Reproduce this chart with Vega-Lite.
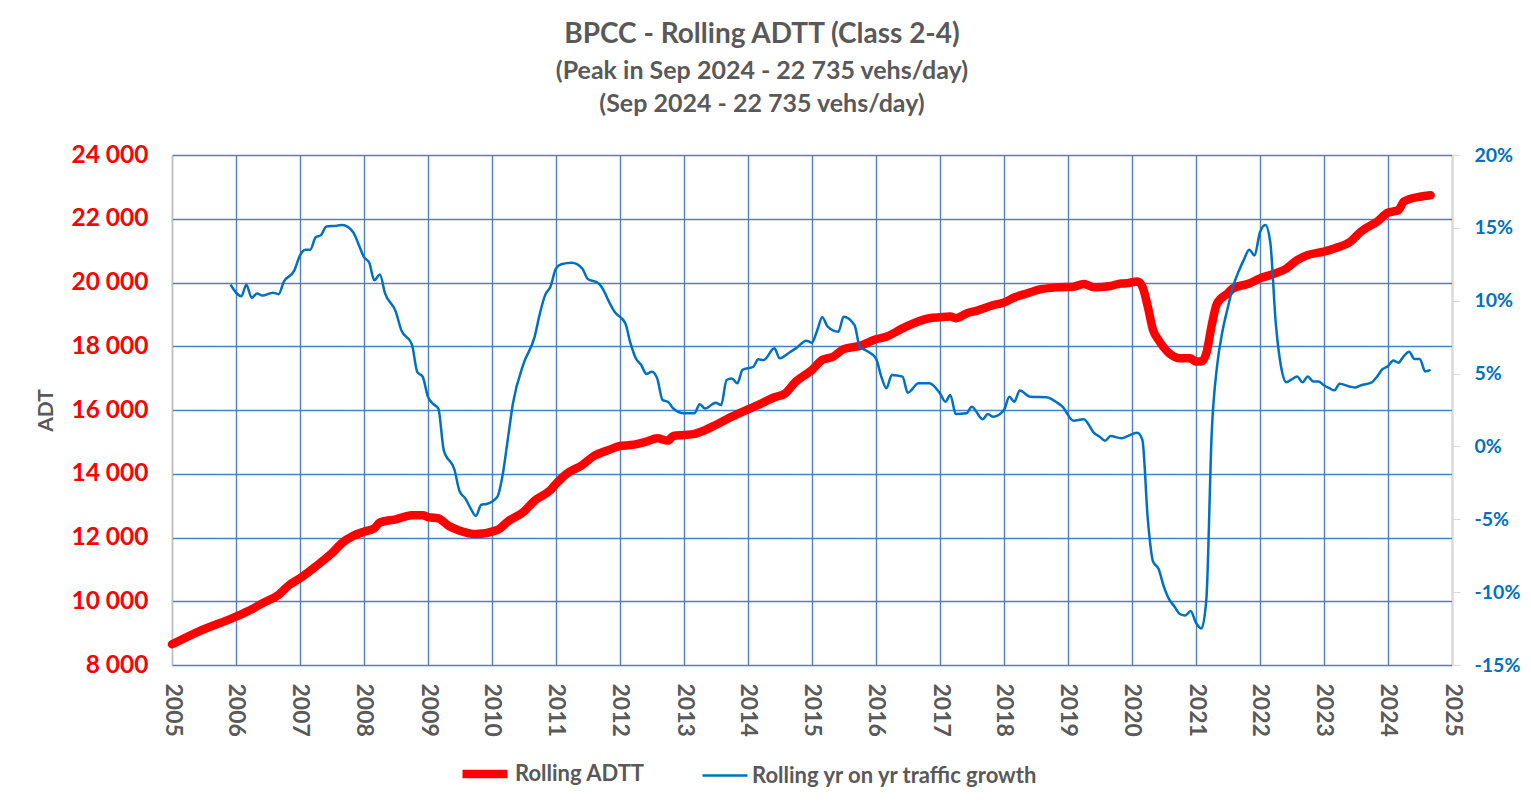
{
"$schema":"https://vega.github.io/schema/vega-lite/v6.json",
"width":1280,"height":510,
"autosize":{"type":"none"},
"padding":{"left":172,"top":155,"right":79,"bottom":143},
"background":"white",
"config":{"font":"Lato","view":{"stroke":null}},
"title":{"text":"BPCC - Rolling ADTT (Class 2-4)","subtitle":["(Peak in Sep 2024 - 22 735 vehs/day)","(Sep 2024 - 22 735 vehs/day)"],"anchor":"middle","dx":-50,"offset":25,"fontSize":28,"fontWeight":"bold","color":"#595959","subtitleFontSize":25,"subtitleFontWeight":"bold","subtitleColor":"#595959","subtitleLineHeight":33,"subtitlePadding":10},
"datasets":{
"adtt":[
{"date":"2005-01-01","series":"Rolling ADTT","value":8650},
{"date":"2005-06-01","series":"Rolling ADTT","value":9050},
{"date":"2006-01-01","series":"Rolling ADTT","value":9520},
{"date":"2006-04-01","series":"Rolling ADTT","value":9750},
{"date":"2006-06-01","series":"Rolling ADTT","value":9940},
{"date":"2006-09-01","series":"Rolling ADTT","value":10200},
{"date":"2006-11-01","series":"Rolling ADTT","value":10510},
{"date":"2007-01-01","series":"Rolling ADTT","value":10720},
{"date":"2007-04-01","series":"Rolling ADTT","value":11090},
{"date":"2007-07-01","series":"Rolling ADTT","value":11500},
{"date":"2007-09-01","series":"Rolling ADTT","value":11840},
{"date":"2007-11-01","series":"Rolling ADTT","value":12050},
{"date":"2008-01-01","series":"Rolling ADTT","value":12180},
{"date":"2008-03-01","series":"Rolling ADTT","value":12290},
{"date":"2008-04-01","series":"Rolling ADTT","value":12470},
{"date":"2008-07-01","series":"Rolling ADTT","value":12570},
{"date":"2008-10-01","series":"Rolling ADTT","value":12700},
{"date":"2008-12-01","series":"Rolling ADTT","value":12700},
{"date":"2009-01-01","series":"Rolling ADTT","value":12640},
{"date":"2009-03-01","series":"Rolling ADTT","value":12600},
{"date":"2009-05-01","series":"Rolling ADTT","value":12360},
{"date":"2009-07-01","series":"Rolling ADTT","value":12215},
{"date":"2009-10-01","series":"Rolling ADTT","value":12110},
{"date":"2010-02-01","series":"Rolling ADTT","value":12235},
{"date":"2010-04-01","series":"Rolling ADTT","value":12500},
{"date":"2010-07-01","series":"Rolling ADTT","value":12810},
{"date":"2010-09-01","series":"Rolling ADTT","value":13155},
{"date":"2010-12-01","series":"Rolling ADTT","value":13490},
{"date":"2011-01-01","series":"Rolling ADTT","value":13680},
{"date":"2011-03-01","series":"Rolling ADTT","value":13990},
{"date":"2011-06-01","series":"Rolling ADTT","value":14275},
{"date":"2011-08-01","series":"Rolling ADTT","value":14540},
{"date":"2011-11-01","series":"Rolling ADTT","value":14750},
{"date":"2012-01-01","series":"Rolling ADTT","value":14870},
{"date":"2012-03-01","series":"Rolling ADTT","value":14900},
{"date":"2012-06-01","series":"Rolling ADTT","value":15010},
{"date":"2012-08-01","series":"Rolling ADTT","value":15110},
{"date":"2012-10-01","series":"Rolling ADTT","value":15040},
{"date":"2012-11-01","series":"Rolling ADTT","value":15185},
{"date":"2013-01-01","series":"Rolling ADTT","value":15215},
{"date":"2013-03-01","series":"Rolling ADTT","value":15250},
{"date":"2013-05-01","series":"Rolling ADTT","value":15370},
{"date":"2013-07-01","series":"Rolling ADTT","value":15530},
{"date":"2013-10-01","series":"Rolling ADTT","value":15790},
{"date":"2014-01-01","series":"Rolling ADTT","value":16020},
{"date":"2014-03-01","series":"Rolling ADTT","value":16160},
{"date":"2014-06-01","series":"Rolling ADTT","value":16400},
{"date":"2014-08-01","series":"Rolling ADTT","value":16520},
{"date":"2014-10-01","series":"Rolling ADTT","value":16890},
{"date":"2015-01-01","series":"Rolling ADTT","value":17255},
{"date":"2015-03-01","series":"Rolling ADTT","value":17570},
{"date":"2015-05-01","series":"Rolling ADTT","value":17670},
{"date":"2015-07-01","series":"Rolling ADTT","value":17910},
{"date":"2015-10-01","series":"Rolling ADTT","value":18010},
{"date":"2016-01-01","series":"Rolling ADTT","value":18220},
{"date":"2016-03-01","series":"Rolling ADTT","value":18300},
{"date":"2016-06-01","series":"Rolling ADTT","value":18560},
{"date":"2016-07-01","series":"Rolling ADTT","value":18640},
{"date":"2016-11-01","series":"Rolling ADTT","value":18880},
{"date":"2017-01-01","series":"Rolling ADTT","value":18910},
{"date":"2017-03-01","series":"Rolling ADTT","value":18930},
{"date":"2017-04-01","series":"Rolling ADTT","value":18880},
{"date":"2017-06-01","series":"Rolling ADTT","value":19030},
{"date":"2017-08-01","series":"Rolling ADTT","value":19120},
{"date":"2017-11-01","series":"Rolling ADTT","value":19290},
{"date":"2018-01-01","series":"Rolling ADTT","value":19370},
{"date":"2018-03-01","series":"Rolling ADTT","value":19530},
{"date":"2018-05-01","series":"Rolling ADTT","value":19640},
{"date":"2018-08-01","series":"Rolling ADTT","value":19790},
{"date":"2018-11-01","series":"Rolling ADTT","value":19850},
{"date":"2019-02-01","series":"Rolling ADTT","value":19870},
{"date":"2019-04-01","series":"Rolling ADTT","value":19950},
{"date":"2019-06-01","series":"Rolling ADTT","value":19850},
{"date":"2019-09-01","series":"Rolling ADTT","value":19890},
{"date":"2019-11-01","series":"Rolling ADTT","value":19970},
{"date":"2019-12-01","series":"Rolling ADTT","value":19975},
{"date":"2020-02-01","series":"Rolling ADTT","value":20030},
{"date":"2020-03-01","series":"Rolling ADTT","value":19870},
{"date":"2020-04-01","series":"Rolling ADTT","value":19240},
{"date":"2020-05-01","series":"Rolling ADTT","value":18510},
{"date":"2020-06-01","series":"Rolling ADTT","value":18200},
{"date":"2020-08-01","series":"Rolling ADTT","value":17780},
{"date":"2020-10-01","series":"Rolling ADTT","value":17620},
{"date":"2020-12-01","series":"Rolling ADTT","value":17620},
{"date":"2021-01-01","series":"Rolling ADTT","value":17520},
{"date":"2021-02-01","series":"Rolling ADTT","value":17520},
{"date":"2021-03-01","series":"Rolling ADTT","value":17780},
{"date":"2021-04-01","series":"Rolling ADTT","value":18670},
{"date":"2021-05-01","series":"Rolling ADTT","value":19340},
{"date":"2021-07-01","series":"Rolling ADTT","value":19660},
{"date":"2021-08-01","series":"Rolling ADTT","value":19820},
{"date":"2021-11-01","series":"Rolling ADTT","value":19970},
{"date":"2022-01-01","series":"Rolling ADTT","value":20130},
{"date":"2022-03-01","series":"Rolling ADTT","value":20235},
{"date":"2022-06-01","series":"Rolling ADTT","value":20440},
{"date":"2022-08-01","series":"Rolling ADTT","value":20700},
{"date":"2022-10-01","series":"Rolling ADTT","value":20860},
{"date":"2023-01-01","series":"Rolling ADTT","value":20970},
{"date":"2023-03-01","series":"Rolling ADTT","value":21070},
{"date":"2023-06-01","series":"Rolling ADTT","value":21280},
{"date":"2023-08-01","series":"Rolling ADTT","value":21600},
{"date":"2023-11-01","series":"Rolling ADTT","value":21910},
{"date":"2024-01-01","series":"Rolling ADTT","value":22190},
{"date":"2024-03-01","series":"Rolling ADTT","value":22270},
{"date":"2024-04-01","series":"Rolling ADTT","value":22540},
{"date":"2024-05-01","series":"Rolling ADTT","value":22610},
{"date":"2024-07-01","series":"Rolling ADTT","value":22690},
{"date":"2024-09-01","series":"Rolling ADTT","value":22735}
],
"growth":[
{"date":"2005-12-01","series":"Rolling yr on yr traffic growth","value":11.1},
{"date":"2006-02-01","series":"Rolling yr on yr traffic growth","value":10.3},
{"date":"2006-03-01","series":"Rolling yr on yr traffic growth","value":11.1},
{"date":"2006-04-01","series":"Rolling yr on yr traffic growth","value":10.2},
{"date":"2006-05-01","series":"Rolling yr on yr traffic growth","value":10.5},
{"date":"2006-06-01","series":"Rolling yr on yr traffic growth","value":10.35},
{"date":"2006-08-01","series":"Rolling yr on yr traffic growth","value":10.55},
{"date":"2006-09-01","series":"Rolling yr on yr traffic growth","value":10.45},
{"date":"2006-10-01","series":"Rolling yr on yr traffic growth","value":11.3},
{"date":"2006-12-01","series":"Rolling yr on yr traffic growth","value":12.1},
{"date":"2007-01-01","series":"Rolling yr on yr traffic growth","value":13.1},
{"date":"2007-02-01","series":"Rolling yr on yr traffic growth","value":13.5},
{"date":"2007-03-01","series":"Rolling yr on yr traffic growth","value":13.5},
{"date":"2007-04-01","series":"Rolling yr on yr traffic growth","value":14.35},
{"date":"2007-05-01","series":"Rolling yr on yr traffic growth","value":14.5},
{"date":"2007-06-01","series":"Rolling yr on yr traffic growth","value":15.1},
{"date":"2007-08-01","series":"Rolling yr on yr traffic growth","value":15.15},
{"date":"2007-09-01","series":"Rolling yr on yr traffic growth","value":15.2},
{"date":"2007-11-01","series":"Rolling yr on yr traffic growth","value":14.7},
{"date":"2007-12-01","series":"Rolling yr on yr traffic growth","value":13.9},
{"date":"2008-01-01","series":"Rolling yr on yr traffic growth","value":13.0},
{"date":"2008-02-01","series":"Rolling yr on yr traffic growth","value":12.6},
{"date":"2008-03-01","series":"Rolling yr on yr traffic growth","value":11.4},
{"date":"2008-04-01","series":"Rolling yr on yr traffic growth","value":11.8},
{"date":"2008-05-01","series":"Rolling yr on yr traffic growth","value":10.5},
{"date":"2008-07-01","series":"Rolling yr on yr traffic growth","value":9.25},
{"date":"2008-08-01","series":"Rolling yr on yr traffic growth","value":8.0},
{"date":"2008-10-01","series":"Rolling yr on yr traffic growth","value":7.0},
{"date":"2008-11-01","series":"Rolling yr on yr traffic growth","value":5.1},
{"date":"2008-12-01","series":"Rolling yr on yr traffic growth","value":4.8},
{"date":"2009-01-01","series":"Rolling yr on yr traffic growth","value":3.4},
{"date":"2009-02-01","series":"Rolling yr on yr traffic growth","value":2.9},
{"date":"2009-03-01","series":"Rolling yr on yr traffic growth","value":2.6},
{"date":"2009-04-01","series":"Rolling yr on yr traffic growth","value":-0.25},
{"date":"2009-06-01","series":"Rolling yr on yr traffic growth","value":-1.6},
{"date":"2009-07-01","series":"Rolling yr on yr traffic growth","value":-3.1},
{"date":"2009-08-01","series":"Rolling yr on yr traffic growth","value":-3.55},
{"date":"2009-09-01","series":"Rolling yr on yr traffic growth","value":-4.25},
{"date":"2009-10-01","series":"Rolling yr on yr traffic growth","value":-4.77},
{"date":"2009-11-01","series":"Rolling yr on yr traffic growth","value":-4.0},
{"date":"2009-12-01","series":"Rolling yr on yr traffic growth","value":-3.95},
{"date":"2010-02-01","series":"Rolling yr on yr traffic growth","value":-3.45},
{"date":"2010-03-01","series":"Rolling yr on yr traffic growth","value":-2.1},
{"date":"2010-04-01","series":"Rolling yr on yr traffic growth","value":0.45},
{"date":"2010-05-01","series":"Rolling yr on yr traffic growth","value":2.96},
{"date":"2010-07-01","series":"Rolling yr on yr traffic growth","value":5.7},
{"date":"2010-09-01","series":"Rolling yr on yr traffic growth","value":7.5},
{"date":"2010-10-01","series":"Rolling yr on yr traffic growth","value":9.1},
{"date":"2010-11-01","series":"Rolling yr on yr traffic growth","value":10.4},
{"date":"2010-12-01","series":"Rolling yr on yr traffic growth","value":10.96},
{"date":"2011-01-01","series":"Rolling yr on yr traffic growth","value":12.2},
{"date":"2011-02-01","series":"Rolling yr on yr traffic growth","value":12.5},
{"date":"2011-04-01","series":"Rolling yr on yr traffic growth","value":12.6},
{"date":"2011-06-01","series":"Rolling yr on yr traffic growth","value":12.2},
{"date":"2011-07-01","series":"Rolling yr on yr traffic growth","value":11.5},
{"date":"2011-09-01","series":"Rolling yr on yr traffic growth","value":11.2},
{"date":"2011-10-01","series":"Rolling yr on yr traffic growth","value":10.7},
{"date":"2011-11-01","series":"Rolling yr on yr traffic growth","value":9.9},
{"date":"2011-12-01","series":"Rolling yr on yr traffic growth","value":9.25},
{"date":"2012-02-01","series":"Rolling yr on yr traffic growth","value":8.45},
{"date":"2012-03-01","series":"Rolling yr on yr traffic growth","value":7.1},
{"date":"2012-04-01","series":"Rolling yr on yr traffic growth","value":6.05},
{"date":"2012-05-01","series":"Rolling yr on yr traffic growth","value":5.6},
{"date":"2012-06-01","series":"Rolling yr on yr traffic growth","value":4.97},
{"date":"2012-07-01","series":"Rolling yr on yr traffic growth","value":5.13},
{"date":"2012-08-01","series":"Rolling yr on yr traffic growth","value":4.67},
{"date":"2012-09-01","series":"Rolling yr on yr traffic growth","value":3.18},
{"date":"2012-10-01","series":"Rolling yr on yr traffic growth","value":3.07},
{"date":"2012-11-01","series":"Rolling yr on yr traffic growth","value":2.6},
{"date":"2013-01-01","series":"Rolling yr on yr traffic growth","value":2.27},
{"date":"2013-03-01","series":"Rolling yr on yr traffic growth","value":2.27},
{"date":"2013-04-01","series":"Rolling yr on yr traffic growth","value":2.9},
{"date":"2013-05-01","series":"Rolling yr on yr traffic growth","value":2.6},
{"date":"2013-07-01","series":"Rolling yr on yr traffic growth","value":3.0},
{"date":"2013-08-01","series":"Rolling yr on yr traffic growth","value":2.84},
{"date":"2013-09-01","series":"Rolling yr on yr traffic growth","value":4.56},
{"date":"2013-10-01","series":"Rolling yr on yr traffic growth","value":4.67},
{"date":"2013-11-01","series":"Rolling yr on yr traffic growth","value":4.33},
{"date":"2013-12-01","series":"Rolling yr on yr traffic growth","value":5.25},
{"date":"2014-02-01","series":"Rolling yr on yr traffic growth","value":5.47},
{"date":"2014-03-01","series":"Rolling yr on yr traffic growth","value":5.98},
{"date":"2014-04-01","series":"Rolling yr on yr traffic growth","value":5.93},
{"date":"2014-06-01","series":"Rolling yr on yr traffic growth","value":6.73},
{"date":"2014-07-01","series":"Rolling yr on yr traffic growth","value":6.05},
{"date":"2014-09-01","series":"Rolling yr on yr traffic growth","value":6.5},
{"date":"2014-10-01","series":"Rolling yr on yr traffic growth","value":6.73},
{"date":"2014-12-01","series":"Rolling yr on yr traffic growth","value":7.26},
{"date":"2015-01-01","series":"Rolling yr on yr traffic growth","value":7.12},
{"date":"2015-02-01","series":"Rolling yr on yr traffic growth","value":7.99},
{"date":"2015-03-01","series":"Rolling yr on yr traffic growth","value":8.86},
{"date":"2015-04-01","series":"Rolling yr on yr traffic growth","value":8.22},
{"date":"2015-06-01","series":"Rolling yr on yr traffic growth","value":7.87},
{"date":"2015-07-01","series":"Rolling yr on yr traffic growth","value":8.9},
{"date":"2015-09-01","series":"Rolling yr on yr traffic growth","value":8.33},
{"date":"2015-10-01","series":"Rolling yr on yr traffic growth","value":6.84},
{"date":"2015-11-01","series":"Rolling yr on yr traffic growth","value":6.62},
{"date":"2016-01-01","series":"Rolling yr on yr traffic growth","value":6.05},
{"date":"2016-02-01","series":"Rolling yr on yr traffic growth","value":4.79},
{"date":"2016-03-01","series":"Rolling yr on yr traffic growth","value":3.99},
{"date":"2016-04-01","series":"Rolling yr on yr traffic growth","value":4.9},
{"date":"2016-06-01","series":"Rolling yr on yr traffic growth","value":4.79},
{"date":"2016-07-01","series":"Rolling yr on yr traffic growth","value":3.69},
{"date":"2016-09-01","series":"Rolling yr on yr traffic growth","value":4.33},
{"date":"2016-11-01","series":"Rolling yr on yr traffic growth","value":4.33},
{"date":"2017-01-01","series":"Rolling yr on yr traffic growth","value":3.64},
{"date":"2017-02-01","series":"Rolling yr on yr traffic growth","value":3.07},
{"date":"2017-03-01","series":"Rolling yr on yr traffic growth","value":3.53},
{"date":"2017-04-01","series":"Rolling yr on yr traffic growth","value":2.22},
{"date":"2017-06-01","series":"Rolling yr on yr traffic growth","value":2.27},
{"date":"2017-07-01","series":"Rolling yr on yr traffic growth","value":2.73},
{"date":"2017-09-01","series":"Rolling yr on yr traffic growth","value":1.86},
{"date":"2017-10-01","series":"Rolling yr on yr traffic growth","value":2.22},
{"date":"2017-11-01","series":"Rolling yr on yr traffic growth","value":2.04},
{"date":"2018-01-01","series":"Rolling yr on yr traffic growth","value":2.5},
{"date":"2018-02-01","series":"Rolling yr on yr traffic growth","value":3.41},
{"date":"2018-03-01","series":"Rolling yr on yr traffic growth","value":3.07},
{"date":"2018-04-01","series":"Rolling yr on yr traffic growth","value":3.83},
{"date":"2018-06-01","series":"Rolling yr on yr traffic growth","value":3.41},
{"date":"2018-09-01","series":"Rolling yr on yr traffic growth","value":3.37},
{"date":"2018-11-01","series":"Rolling yr on yr traffic growth","value":3.0},
{"date":"2018-12-01","series":"Rolling yr on yr traffic growth","value":2.73},
{"date":"2019-02-01","series":"Rolling yr on yr traffic growth","value":1.77},
{"date":"2019-04-01","series":"Rolling yr on yr traffic growth","value":1.86},
{"date":"2019-06-01","series":"Rolling yr on yr traffic growth","value":0.9},
{"date":"2019-07-01","series":"Rolling yr on yr traffic growth","value":0.67},
{"date":"2019-08-01","series":"Rolling yr on yr traffic growth","value":0.39},
{"date":"2019-09-01","series":"Rolling yr on yr traffic growth","value":0.71},
{"date":"2019-11-01","series":"Rolling yr on yr traffic growth","value":0.56},
{"date":"2019-12-01","series":"Rolling yr on yr traffic growth","value":0.67},
{"date":"2020-02-01","series":"Rolling yr on yr traffic growth","value":0.94},
{"date":"2020-03-01","series":"Rolling yr on yr traffic growth","value":0.44},
{"date":"2020-04-01","series":"Rolling yr on yr traffic growth","value":-5.0},
{"date":"2020-05-01","series":"Rolling yr on yr traffic growth","value":-7.9},
{"date":"2020-06-01","series":"Rolling yr on yr traffic growth","value":-8.4},
{"date":"2020-07-01","series":"Rolling yr on yr traffic growth","value":-9.6},
{"date":"2020-08-01","series":"Rolling yr on yr traffic growth","value":-10.5},
{"date":"2020-09-01","series":"Rolling yr on yr traffic growth","value":-11.0},
{"date":"2020-10-01","series":"Rolling yr on yr traffic growth","value":-11.5},
{"date":"2020-11-01","series":"Rolling yr on yr traffic growth","value":-11.6},
{"date":"2020-12-01","series":"Rolling yr on yr traffic growth","value":-11.3},
{"date":"2021-01-01","series":"Rolling yr on yr traffic growth","value":-12.1},
{"date":"2021-02-01","series":"Rolling yr on yr traffic growth","value":-12.5},
{"date":"2021-03-01","series":"Rolling yr on yr traffic growth","value":-10.5},
{"date":"2021-04-01","series":"Rolling yr on yr traffic growth","value":1.0},
{"date":"2021-05-01","series":"Rolling yr on yr traffic growth","value":5.5},
{"date":"2021-06-01","series":"Rolling yr on yr traffic growth","value":7.9},
{"date":"2021-07-01","series":"Rolling yr on yr traffic growth","value":9.5},
{"date":"2021-08-01","series":"Rolling yr on yr traffic growth","value":11.0},
{"date":"2021-09-01","series":"Rolling yr on yr traffic growth","value":12.0},
{"date":"2021-10-01","series":"Rolling yr on yr traffic growth","value":12.8},
{"date":"2021-11-01","series":"Rolling yr on yr traffic growth","value":13.5},
{"date":"2021-12-01","series":"Rolling yr on yr traffic growth","value":13.1},
{"date":"2022-01-01","series":"Rolling yr on yr traffic growth","value":14.7},
{"date":"2022-02-01","series":"Rolling yr on yr traffic growth","value":15.2},
{"date":"2022-03-01","series":"Rolling yr on yr traffic growth","value":14.0},
{"date":"2022-04-01","series":"Rolling yr on yr traffic growth","value":8.5},
{"date":"2022-05-01","series":"Rolling yr on yr traffic growth","value":5.5},
{"date":"2022-06-01","series":"Rolling yr on yr traffic growth","value":4.4},
{"date":"2022-07-01","series":"Rolling yr on yr traffic growth","value":4.6},
{"date":"2022-08-01","series":"Rolling yr on yr traffic growth","value":4.8},
{"date":"2022-09-01","series":"Rolling yr on yr traffic growth","value":4.4},
{"date":"2022-10-01","series":"Rolling yr on yr traffic growth","value":4.8},
{"date":"2022-11-01","series":"Rolling yr on yr traffic growth","value":4.45},
{"date":"2022-12-01","series":"Rolling yr on yr traffic growth","value":4.45},
{"date":"2023-01-01","series":"Rolling yr on yr traffic growth","value":4.2},
{"date":"2023-02-01","series":"Rolling yr on yr traffic growth","value":4.0},
{"date":"2023-03-01","series":"Rolling yr on yr traffic growth","value":3.85},
{"date":"2023-04-01","series":"Rolling yr on yr traffic growth","value":4.3},
{"date":"2023-06-01","series":"Rolling yr on yr traffic growth","value":4.1},
{"date":"2023-07-01","series":"Rolling yr on yr traffic growth","value":4.05},
{"date":"2023-08-01","series":"Rolling yr on yr traffic growth","value":4.2},
{"date":"2023-10-01","series":"Rolling yr on yr traffic growth","value":4.4},
{"date":"2023-11-01","series":"Rolling yr on yr traffic growth","value":4.8},
{"date":"2023-12-01","series":"Rolling yr on yr traffic growth","value":5.3},
{"date":"2024-01-01","series":"Rolling yr on yr traffic growth","value":5.5},
{"date":"2024-02-01","series":"Rolling yr on yr traffic growth","value":5.9},
{"date":"2024-03-01","series":"Rolling yr on yr traffic growth","value":5.75},
{"date":"2024-04-01","series":"Rolling yr on yr traffic growth","value":6.2},
{"date":"2024-05-01","series":"Rolling yr on yr traffic growth","value":6.5},
{"date":"2024-06-01","series":"Rolling yr on yr traffic growth","value":6.0},
{"date":"2024-07-01","series":"Rolling yr on yr traffic growth","value":6.0},
{"date":"2024-08-01","series":"Rolling yr on yr traffic growth","value":5.15},
{"date":"2024-09-01","series":"Rolling yr on yr traffic growth","value":5.25}
]
},
"encoding":{
"x":{"field":"date","type":"temporal","scale":{"type":"utc","domain":[{"year":2005,"utc":true},{"year":2025,"utc":true}]},
"axis":{"title":null,"format":"%Y","values":[{"year":2005,"utc":true},{"year":2006,"utc":true},{"year":2007,"utc":true},{"year":2008,"utc":true},{"year":2009,"utc":true},{"year":2010,"utc":true},{"year":2011,"utc":true},{"year":2012,"utc":true},{"year":2013,"utc":true},{"year":2014,"utc":true},{"year":2015,"utc":true},{"year":2016,"utc":true},{"year":2017,"utc":true},{"year":2018,"utc":true},{"year":2019,"utc":true},{"year":2020,"utc":true},{"year":2021,"utc":true},{"year":2022,"utc":true},{"year":2023,"utc":true},{"year":2024,"utc":true},{"year":2025,"utc":true}],
"labelAngle":90,"labelAlign":"left","labelBaseline":"middle","labelFontSize":23,"labelFontWeight":"bold","labelColor":"#595959","labelPadding":18,"labelFlush":false,"labelOverlap":false,"ticks":false,"domain":false,"grid":true,"gridColor":"#4F81BD","gridWidth":1.4}}
},
"layer":[
{"data":{"name":"adtt"},
"mark":{"type":"line","strokeCap":"round","strokeJoin":"round","interpolate":"monotone"},
"encoding":{
"y":{"field":"value","type":"quantitative","scale":{"domain":[8000,24000],"nice":false,"zero":false},
"axis":{"title":"ADT","values":[8000,10000,12000,14000,16000,18000,20000,22000,24000],"labelExpr":"replace(format(datum.value, ','), ',', ' ')","labelColor":"#FF0000","labelFontSize":24.5,"labelFontWeight":"bold","labelPadding":24,"labelFlush":false,"ticks":false,"domainColor":"#BFBFBF","grid":true,"gridColor":"#4F81BD","gridWidth":1.4,"titleColor":"#595959","titleFontSize":21,"titleFontWeight":"bold","titlePadding":14}},
"color":{"field":"series","type":"nominal","scale":{"domain":["Rolling ADTT","Rolling yr on yr traffic growth"],"range":["#FF0000","#0070C0"]},
"legend":{"orient":"none","legendX":286,"legendY":592,"direction":"horizontal","title":null,"symbolType":"stroke","symbolSize":2025,"labelFontSize":22,"labelFontWeight":"bold","labelColor":"#595959","labelLimit":0,"columnPadding":52,"labelOffset":3}},
"strokeWidth":{"field":"series","type":"nominal","scale":{"domain":["Rolling ADTT","Rolling yr on yr traffic growth"],"range":[8.5,2.5]},"legend":null}
}},
{"data":{"name":"growth"},
"mark":{"type":"line","interpolate":"monotone"},
"encoding":{
"y":{"field":"value","type":"quantitative","scale":{"domain":[-15,20],"nice":false,"zero":false},
"axis":{"orient":"right","title":null,"values":[-15,-10,-5,0,5,10,15,20],"labelExpr":"datum.value + '%'","labelColor":"#0070C0","labelFontSize":19.5,"labelFontWeight":"bold","labelPadding":14,"labelFlush":false,"tickSize":8,"tickColor":"#D9D9D9","domainColor":"#D9D9D9","grid":false}},
"color":{"field":"series","type":"nominal"},
"strokeWidth":{"field":"series","type":"nominal","legend":null}
}}
],
"resolve":{"scale":{"y":"independent"}}
}
